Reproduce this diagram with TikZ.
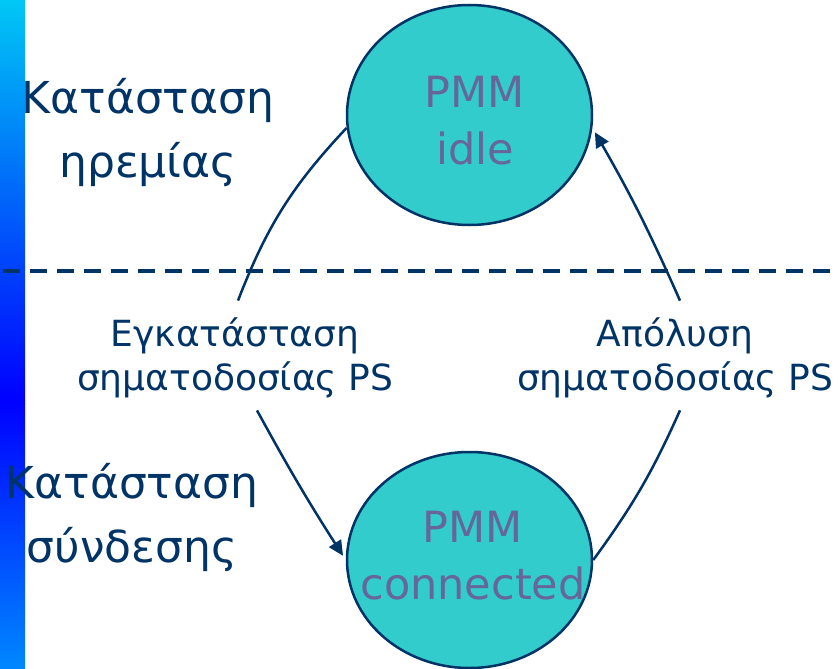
\documentclass[tikz,border=0pt]{standalone}
\usepackage{fontspec}
\setmainfont{DejaVu Sans}
\usetikzlibrary{shapes.geometric,arrows.meta}
\definecolor{navy}{RGB}{0,51,102}
\definecolor{pmmfill}{RGB}{51,204,204}
\definecolor{pmmtext}{RGB}{102,102,153}
\definecolor{bartop}{RGB}{0,200,245}
\definecolor{barmid}{RGB}{0,0,255}
\definecolor{barbot}{RGB}{0,136,255}
\begin{document}
\begin{tikzpicture}[x=1pt,y=-1pt,
  state/.style={ellipse, draw=navy, line width=2.5pt, fill=pmmfill, minimum width=245pt, minimum height=220pt, inner sep=0pt},
  pmm/.style={text=pmmtext, font=\fontsize{43}{57}\selectfont, align=center, inner sep=0pt},
  side/.style={text=navy, font=\fontsize{44}{64}\selectfont, align=center, inner sep=0pt},
  trans/.style={text=navy, font=\fontsize{36}{44}\selectfont, align=center, inner sep=0pt},
  conn/.style={draw=navy, line width=2.5pt},
  tip/.style={-{Triangle[length=15pt,width=14pt]}, shorten >=5pt}
]
\useasboundingbox (0,0) rectangle (839,669);
\shade[top color=bartop, bottom color=barmid] (0,0) rectangle (25,400);
\shade[top color=barmid, bottom color=barbot] (0,400) rectangle (25,669);
\coordinate (dl) at (3,271);
\coordinate (dr) at (839,271);
\draw[navy, line width=4pt, dash pattern=on 17pt off 10pt] (dl) -- (dr);
\node[state] (idle) at (469.5,115) {};
\node[state, minimum height=216pt] (con) at (469.5,560) {};
\node[pmm] (idlet) at (475,121) {PMM\\idle};
\node[pmm] (cont) at (473,556) {PMM\\connected};
\node[side] (restl) at (148,133) {Κατάσταση\\ηρεμίας};
\node[side] (connl) at (132,518) {Κατάσταση\\σύνδεσης};
\node[trans] (lblA) at (235,358) {Εγκατάσταση\\σηματοδοσίας PS};
\node[trans] (lblB) at (675,358) {Απόλυση\\σηματοδοσίας PS};
\draw[conn] (idle.186) to[bend right=11] ([xshift=3pt,yshift=17pt]lblA.north);
\draw[conn, tip] ([xshift=22pt,yshift=-12pt]lblA.south) to[bend right=2] (con.west);
\draw[conn] (con.east) to[bend right=6] ([xshift=5pt,yshift=-12pt]lblB.south);
\draw[conn, tip] ([xshift=5pt,yshift=17pt]lblB.north) to[bend right=3] (idle.-6);
\end{tikzpicture}
\end{document}
